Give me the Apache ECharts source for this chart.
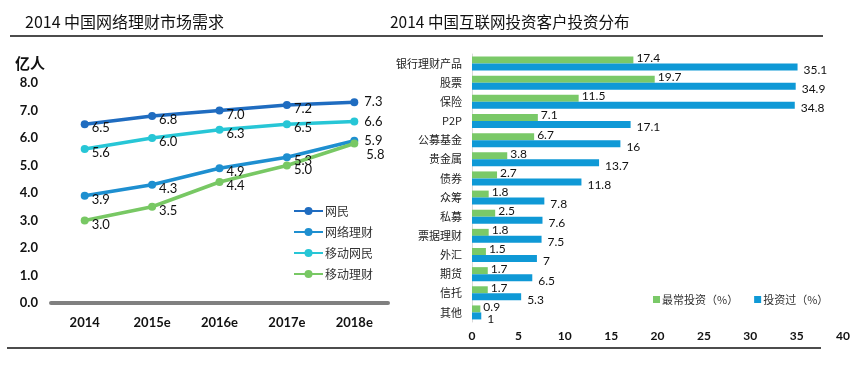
<!DOCTYPE html>
<html><head><meta charset="utf-8">
<script src="https://cdn.jsdelivr.net/npm/echarts@6/dist/echarts.min.js"></script>
<style>html,body{margin:0;padding:0;background:#fff}#c{width:863px;height:367px}</style>
</head><body><div id="c"></div>
<script>
const years = ['2014','2015e','2016e','2017e','2018e'];
const netUsers = [6.5, 6.8, 7.0, 7.2, 7.3];
const netFinance = [3.9, 4.3, 4.9, 5.3, 5.9];
const mobileUsers = [5.6, 6.0, 6.3, 6.5, 6.6];
const mobileFinance = [3.0, 3.5, 4.4, 5.0, 5.8];
const lineNames = ['网民','网络理财','移动网民','移动理财'];

const products = ['银行理财产品','股票','保险','P2P','公募基金','贵金属','债券','众筹','私募','票据理财','外汇','期货','信托','其他'];
const mostInvest = [17.4, 19.7, 11.5, 7.1, 6.7, 3.8, 2.7, 1.8, 2.5, 1.8, 1.5, 1.7, 1.7, 0.9];
const everInvest = [35.1, 34.9, 34.8, 17.1, 16, 13.7, 11.8, 7.8, 7.6, 7.5, 7, 6.5, 5.3, 1];
const barNames = ['最常投资（%）','投资过（%）'];

const numFont = 'Lato, "Noto Sans CJK SC", sans-serif';
const cjk = '"Noto Sans CJK SC", sans-serif';
const lineColors = ['#1F6CC0','#1E8FD0','#27C6D6','#78C864'];

function lineSeries(name, vals, color, lastOffset) {
  return {
    type: 'line', name, xAxisIndex: 0, yAxisIndex: 0,
    data: vals.map((v, i) => {
      const last = i === vals.length - 1;
      return {
        value: v,
        label: last ? { offset: lastOffset, distance: 6 } : {}
      };
    }),
    symbol: 'circle', symbolSize: 8,
    lineStyle: { width: 3.5, color },
    itemStyle: { color },
    label: {
      show: true, position: 'right', distance: 3, offset: [0, 4],
      formatter: p => p.value.toFixed(1),
      fontFamily: numFont, fontSize: 13, color: '#111'
    },
    z: 3
  };
}

const chart = echarts.init(document.getElementById('c'), null, { renderer: 'canvas' });
chart.setOption({
  animation: false,
  backgroundColor: '#fff',
  title: [
    { text: '2014 中国网络理财市场需求', left: 20, top: 9, textStyle: { fontFamily: cjk, fontSize: 16, fontWeight: 'normal', color: '#111' } },
    { text: '2014 中国互联网投资客户投资分布', left: 385, top: 9, textStyle: { fontFamily: cjk, fontSize: 15.5, fontWeight: 'normal', color: '#111' } },
    { text: '亿人', left: 10, top: 51, textStyle: { fontFamily: cjk, fontSize: 15, fontWeight: 'bold', color: '#111' } }
  ],
  graphic: [
    { type: 'line', shape: { x1: 10, y1: 36, x2: 823, y2: 36 }, style: { stroke: '#111', lineWidth: 1.5 } },
    { type: 'line', shape: { x1: 7, y1: 348, x2: 821, y2: 348 }, style: { stroke: '#111', lineWidth: 1.5 } }
  ],
  legend: [
    {
      data: lineNames, orient: 'vertical', left: 288, top: 200,
      itemWidth: 29, itemHeight: 10, itemGap: 9,
      textStyle: { fontFamily: cjk, fontSize: 12, color: '#333', padding: [0, 0, 0, -3] }
    },
    {
      data: barNames, orient: 'horizontal', left: 648, top: 289,
      icon: 'rect', itemWidth: 7, itemHeight: 7, itemGap: 16,
      textStyle: { fontFamily: cjk, fontSize: 11, color: '#333', padding: [0, 0, 0, -3] }
    }
  ],
  grid: [
    { left: 51, right: 475, top: 83, bottom: 64 },
    { left: 472, right: 20, top: 54, bottom: 45 }
  ],
  xAxis: [
    {
      gridIndex: 0, type: 'category', data: years, boundaryGap: true,
      axisLine: { lineStyle: { color: '#808080', width: 4 } },
      axisTick: { show: false },
      axisLabel: { fontFamily: numFont, fontWeight: 'bold', fontSize: 13, color: '#111', margin: 13 }
    },
    {
      gridIndex: 1, type: 'value', min: 0, max: 40, interval: 5,
      axisLine: { show: false }, axisTick: { show: false }, splitLine: { show: false },
      axisLabel: { fontFamily: numFont, fontWeight: 'bold', fontSize: 12, color: '#111', margin: 8 }
    }
  ],
  yAxis: [
    {
      gridIndex: 0, type: 'value', min: 0, max: 8, interval: 1,
      axisLine: { show: false }, axisTick: { show: false }, splitLine: { show: false },
      axisLabel: { fontFamily: numFont, fontWeight: 'bold', fontSize: 13, color: '#111', margin: 13, formatter: v => v.toFixed(1) }
    },
    {
      gridIndex: 1, type: 'category', data: products, inverse: true,
      axisLine: { show: true, lineStyle: { color: '#d9d9d9', width: 1 } },
      axisTick: { show: false },
      axisLabel: { fontFamily: cjk, fontSize: 11, color: '#222', margin: 10 }
    }
  ],
  series: [
    lineSeries(lineNames[0], netUsers, lineColors[0], [0, 0]),
    lineSeries(lineNames[1], netFinance, lineColors[1], [0, 0]),
    lineSeries(lineNames[2], mobileUsers, lineColors[2], [0, 0]),
    lineSeries(lineNames[3], mobileFinance, lineColors[3], [2, 11]),
    {
      type: 'bar', name: barNames[0], xAxisIndex: 1, yAxisIndex: 1, data: mostInvest,
      barWidth: 7, barGap: '0%', itemStyle: { color: '#7AC968' },
      label: { show: true, position: 'right', distance: 3, offset: [0, -2], fontFamily: numFont, fontSize: 12, color: '#111' }
    },
    {
      type: 'bar', name: barNames[1], xAxisIndex: 1, yAxisIndex: 1, data: everInvest,
      barWidth: 7, barGap: '0%', itemStyle: { color: '#0F99D6' },
      label: { show: true, position: 'right', distance: 6, offset: [0, 3], fontFamily: numFont, fontSize: 12, color: '#111' }
    }
  ]
});
</script></body></html>
